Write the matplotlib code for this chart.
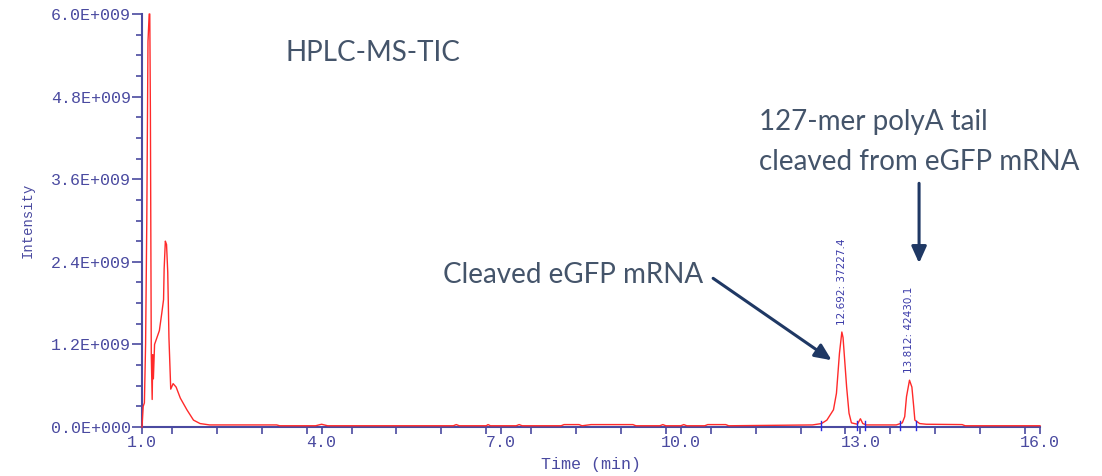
import matplotlib.pyplot as plt
from matplotlib.ticker import MultipleLocator

# TIC trace (time in min, intensity in 1e9 counts)
time_min = [1.00, 1.02, 1.04, 1.06, 1.08, 1.10, 1.12, 1.13, 1.14, 1.155, 1.17, 1.18, 1.19,
            1.21, 1.25, 1.29, 1.33, 1.36, 1.37, 1.39, 1.41, 1.43, 1.45, 1.47, 1.48, 1.52,
            1.57, 1.64, 1.75, 1.86, 1.97, 2.13, 3.25, 3.30, 3.90, 4.00, 4.10, 6.20, 6.25,
            6.30, 6.75, 6.78, 6.82, 7.25, 7.30, 7.35, 8.00, 8.05, 8.30, 8.35, 8.50, 9.20,
            9.25, 9.65, 9.70, 9.75, 10.00, 10.05, 10.10, 10.40, 10.45, 10.75, 10.80, 12.20,
            12.35, 12.44, 12.55, 12.60, 12.65, 12.69, 12.71, 12.77, 12.81, 12.85, 12.95,
            13.00, 13.04, 13.10, 13.60, 13.70, 13.74, 13.77, 13.82, 13.86, 13.89, 13.91,
            13.99, 14.10, 14.70, 14.75, 16.00]
intensity_e9 = [0.0, 0.3, 0.35, 1.2, 3.0, 5.6, 6.0, 6.0, 4.6, 1.05, 0.4, 1.05, 0.7,
                1.2, 1.3, 1.4, 1.65, 1.85, 2.3, 2.7, 2.65, 2.25, 1.3, 0.8, 0.55, 0.63,
                0.58, 0.42, 0.25, 0.1, 0.05, 0.03, 0.03, 0.018, 0.018, 0.04, 0.018, 0.018, 0.035,
                0.018, 0.018, 0.035, 0.018, 0.018, 0.035, 0.018, 0.018, 0.035, 0.035, 0.018, 0.035, 0.035,
                0.018, 0.018, 0.035, 0.018, 0.018, 0.035, 0.018, 0.018, 0.035, 0.035, 0.018, 0.03,
                0.05, 0.1, 0.25, 0.49, 1.07, 1.38, 1.3, 0.58, 0.2, 0.06, 0.04,
                0.12, 0.05, 0.03, 0.03, 0.06, 0.15, 0.44, 0.68, 0.58, 0.3, 0.1,
                0.05, 0.04, 0.035, 0.018, 0.018]

peak_times = [12.692, 13.812]
peak_heights_e9 = [1.38, 0.68]
peak_labels = ['12.692: 37227.4', '13.812: 42430.1']
integration_marks = [12.34, 12.94, 13.08, 13.66, 13.93]

ytick_values_e9 = [0.0, 1.2, 2.4, 3.6, 4.8, 6.0]
ytick_labels = ['0.0E+000', '1.2E+009', '2.4E+009', '3.6E+009', '4.8E+009', '6.0E+009']
xtick_values = [1.0, 4.0, 7.0, 10.0, 13.0, 16.0]
xtick_labels = ['1.0', '4.0', '7.0', '10.0', '13.0', '16.0']

axis_col = '#4a4aa0'
note_col = '#44546a'
arrow_col = '#1f3864'
mono = 'Liberation Mono'
sans = 'Lato'

fig = plt.figure(figsize=(11.02, 4.76), dpi=100)
ax = fig.add_axes([142 / 1102, 49 / 476, 898 / 1102, 413 / 476])

ax.plot(time_min, [v * 1e9 for v in intensity_e9], color='#ff2a2a', lw=1.0, zorder=3,
        clip_on=False)

for t in integration_marks:
    ax.plot([t, t], [-0.05e9, 0.08e9], color='#2a2ae0', lw=1.0, zorder=4, clip_on=False)

for t, h, lab in zip(peak_times, peak_heights_e9, peak_labels):
    ax.text(t, h * 1e9 + 0.1e9, lab, rotation=90, ha='center', va='bottom',
            fontsize=7.5, color='#3a3aa8', family='DejaVu Sans')

ax.set_xlim(1.0, 16.0)
ax.set_ylim(0, 6.0e9)
ax.set_xticks(xtick_values)
ax.set_xticklabels(xtick_labels)
ax.set_yticks([v * 1e9 for v in ytick_values_e9])
ax.set_yticklabels(ytick_labels)
ax.xaxis.set_minor_locator(MultipleLocator(0.75))
ax.yaxis.set_minor_locator(MultipleLocator(0.3e9))

for side in ['top', 'right']:
    ax.spines[side].set_visible(False)
for side in ['left', 'bottom']:
    ax.spines[side].set_color(axis_col)
    ax.spines[side].set_linewidth(1.5)

ax.tick_params(axis='y', which='major', length=7, width=1.2, color=axis_col,
               labelcolor=axis_col, labelsize=12, pad=1)
ax.tick_params(axis='y', which='minor', length=4, width=1.2, color=axis_col)
ax.tick_params(axis='x', which='both', length=5, width=1.2, color=axis_col,
               labelcolor=axis_col, labelsize=12, pad=1)
for lab in ax.get_xticklabels() + ax.get_yticklabels():
    lab.set_family(mono)

ax.set_xlabel('Time (min)', family=mono, fontsize=12, color=axis_col, labelpad=5)
ax.set_ylabel('Intensity', family=mono, fontsize=10, color=axis_col, labelpad=12)

# annotations
ax.text(3.39, 5.31e9, 'HPLC-MS-TIC', family=sans, fontsize=20, color=note_col,
        ha='left', va='baseline')
ax.text(6.03, 2.09e9, 'Cleaved eGFP mRNA', family=sans, fontsize=20, color=note_col,
        ha='left', va='baseline')
ax.text(11.31, 3.73e9, '127-mer polyA tail\ncleaved from eGFP mRNA', family=sans,
        fontsize=20, color=note_col, ha='left', va='baseline', linespacing=1.7)

ax.annotate('', xy=(12.52, 0.97e9), xytext=(10.54, 2.16e9),
            arrowprops=dict(arrowstyle='-|>,head_length=1.0,head_width=0.45',
                            color=arrow_col, lw=2.2, shrinkA=0, shrinkB=0))
ax.annotate('', xy=(13.98, 2.38e9), xytext=(13.98, 3.54e9),
            arrowprops=dict(arrowstyle='-|>,head_length=1.0,head_width=0.45',
                            color=arrow_col, lw=2.2, shrinkA=0, shrinkB=0))

fig.savefig('out.png', dpi=100)
